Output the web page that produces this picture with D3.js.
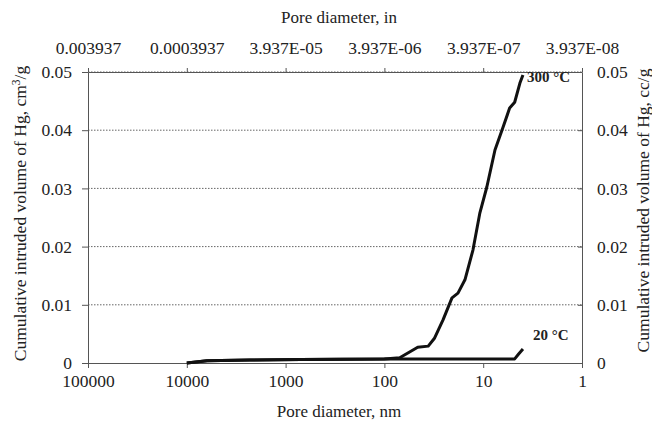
<!DOCTYPE html>
<html>
<head>
<meta charset="utf-8">
<script src="https://cdn.jsdelivr.net/npm/d3@7"></script>
<style>
  body { margin: 0; background: #fff; }
  text { font-family: "Liberation Serif", "Times New Roman", serif; fill: #222; }
  .axis path, .axis line { stroke: #555; }
  .grid line { stroke: #666; stroke-dasharray: 1.5,1.5; }
</style>
</head>
<body>
<script>
// pore diameter (nm) and cumulative intruded volume (cm3/g)
var diam300 = [10000, 6250, 2300, 700, 100, 70, 46, 36, 31, 25.5, 20.7, 18, 15.3, 12.7, 10.8, 9.2, 7.6, 6.3, 5.4, 4.8, 4.25, 3.96];
var vol300  = [0, 0.0004, 0.0005, 0.0006, 0.0007, 0.0009, 0.0027, 0.0029, 0.0043, 0.0074, 0.0112, 0.012, 0.0143, 0.0194, 0.0258, 0.0302, 0.0366, 0.0405, 0.0438, 0.0448, 0.0481, 0.0495];
var diam20  = [10000, 6250, 2300, 700, 100, 20, 4.8, 4.4, 3.96];
var vol20   = [0, 0.0004, 0.0005, 0.0006, 0.0007, 0.0007, 0.0007, 0.0015, 0.0024];

var bottomTicks = [100000, 10000, 1000, 100, 10, 1];
var topTicks = [0.003937, 0.0003937, 3.937e-5, 3.937e-6, 3.937e-7, 3.937e-8];
var topTickLabels = ["0.003937", "0.0003937", "3.937E-05", "3.937E-06", "3.937E-07", "3.937E-08"];
var yTicks = [0, 0.01, 0.02, 0.03, 0.04, 0.05];

// size settings
var margin = {top: 72, right: 70, bottom: 63, left: 88};
var svg = d3.select("body").append("svg").attr("width", 652).attr("height", 426);
var width = 652 - margin.left - margin.right,
    height = 426 - margin.top - margin.bottom;
var g = svg.append("g").attr("transform", "translate(" + margin.left + "," + margin.top + ")");

var x = d3.scaleLog().domain([100000, 1]).range([0, width]);
var xTop = d3.scaleLog().domain([0.003937, 3.937e-8]).range([0, width]);
var y = d3.scaleLinear().domain([0, 0.05]).range([height, 0]);

// gridlines
g.append("g").attr("class", "grid")
  .selectAll("line")
  .data(yTicks.filter(function(d) { return d > 0; }))
  .enter().append("line")
    .attr("x1", 0).attr("x2", width)
    .attr("y1", function(d) { return y(d); })
    .attr("y2", function(d) { return y(d); });

var fmtY = function(d) { return d === 0 ? "0" : d3.format(".2f")(d); };

// axes
g.append("g").attr("class", "axis")
  .attr("transform", "translate(0," + height + ")")
  .call(d3.axisBottom(x).tickValues(bottomTicks).tickFormat(d3.format("d")).tickSize(5).tickSizeOuter(0).tickPadding(7));

g.append("g").attr("class", "axis")
  .call(d3.axisTop(xTop).tickValues(topTicks).tickFormat(function(d, i) { return topTickLabels[i]; }).tickSize(4).tickSizeOuter(0).tickPadding(14));

g.append("g").attr("class", "axis")
  .call(d3.axisLeft(y).tickValues(yTicks).tickFormat(fmtY).tickSize(6).tickSizeOuter(0).tickPadding(10));

g.append("g").attr("class", "axis")
  .attr("transform", "translate(" + width + ",0)")
  .call(d3.axisRight(y).tickValues(yTicks).tickFormat(fmtY).tickSize(-4).tickSizeOuter(0).tickPadding(15));

g.selectAll(".axis text").style("font-size", "17.5px").attr("fill", "#222");

// curves
var line = d3.line()
  .x(function(d) { return x(d[0]); })
  .y(function(d) { return y(d[1]); });

var s300 = d3.zip(diam300, vol300);
var s20 = d3.zip(diam20, vol20);

g.append("path").datum(s300)
  .attr("d", line).attr("fill", "none").attr("stroke", "#111")
  .attr("stroke-width", 3).attr("stroke-linejoin", "round");
g.append("path").datum(s20)
  .attr("d", line).attr("fill", "none").attr("stroke", "#111")
  .attr("stroke-width", 3).attr("stroke-linejoin", "round");

// series labels
var last300 = s300[s300.length - 1], last20 = s20[s20.length - 1];
g.append("text").attr("x", x(last300[0]) + 4).attr("y", y(last300[1]) + 7)
  .style("font-size", "15px").style("font-weight", "bold").text("300 °C");
g.append("text").attr("x", x(last20[0]) + 10).attr("y", y(last20[1]) - 9)
  .style("font-size", "15px").style("font-weight", "bold").text("20 °C");

// titles
svg.append("text").attr("x", margin.left + width / 2 + 4).attr("y", 417)
  .attr("text-anchor", "middle").style("font-size", "17px").text("Pore diameter, nm");
svg.append("text").attr("x", margin.left + width / 2 + 4).attr("y", 23)
  .attr("text-anchor", "middle").style("font-size", "17px").text("Pore diameter, in");

var yl = svg.append("text")
  .attr("transform", "translate(26," + (margin.top + height / 2 - 4) + ") rotate(-90)")
  .attr("text-anchor", "middle").style("font-size", "17.5px");
yl.append("tspan").text("Cumulative intruded volume of Hg, cm");
yl.append("tspan").attr("dy", -6).style("font-size", "11.5px").text("3");
yl.append("tspan").attr("dy", 6).text("/g");

svg.append("text")
  .attr("transform", "translate(649," + (margin.top + height / 2 - 7) + ") rotate(-90)")
  .attr("text-anchor", "middle").style("font-size", "17.5px")
  .text("Cumulative intruded volume of Hg, cc/g");
</script>
</body>
</html>
